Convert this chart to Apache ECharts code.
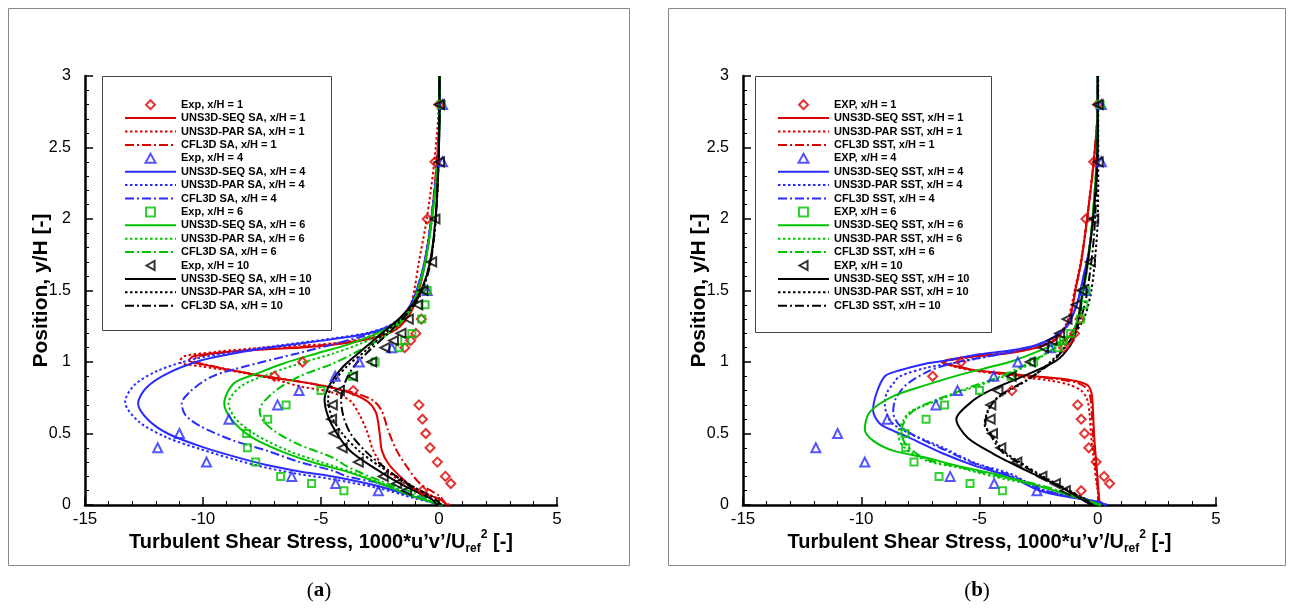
<!DOCTYPE html>
<html><head><meta charset="utf-8">
<script src="https://cdn.jsdelivr.net/npm/echarts/dist/echarts.min.js"></script>
<style>html,body{margin:0;padding:0;background:#fff}#c{width:1291px;height:608px}</style>
</head><body><div id="c"></div>
<script>
// ---------- Experimental data (shared by both panels) [x, y/H] ----------
const exp1 = [[-0.7,0.1],[0.5,0.15],[0.27,0.2],[-0.07,0.3],[-0.38,0.4],[-0.56,0.5],[-0.7,0.6],[-0.85,0.7],[-3.63,0.8],[-6.98,0.9],[-5.78,1.0],[-1.45,1.1],[-1.2,1.15],[-0.98,1.2],[-0.75,1.3],[-0.5,2.0],[-0.17,2.4],[0.0,2.8]];
const exp4 = [[-2.57,0.1],[-4.38,0.15],[-6.24,0.2],[-9.85,0.3],[-11.92,0.4],[-11.0,0.5],[-8.9,0.6],[-6.84,0.7],[-5.93,0.8],[-4.4,0.9],[-3.38,1.0],[-2.0,1.1],[-0.5,1.5],[0.15,2.4],[0.15,2.8]];
const exp6 = [[-4.03,0.1],[-5.4,0.15],[-6.71,0.2],[-7.77,0.3],[-8.12,0.4],[-8.15,0.5],[-7.26,0.6],[-6.48,0.7],[-5.0,0.8],[-3.67,0.9],[-2.71,1.0],[-1.68,1.1],[-1.45,1.15],[-1.15,1.2],[-0.73,1.3],[-0.59,1.4],[-0.5,1.5],[0.1,2.8]];
const exp10 = [[-1.37,0.1],[-1.79,0.15],[-2.36,0.2],[-3.42,0.3],[-4.1,0.4],[-4.45,0.5],[-4.55,0.6],[-4.52,0.7],[-4.22,0.8],[-3.66,0.9],[-2.85,1.0],[-2.29,1.1],[-1.93,1.15],[-1.61,1.2],[-1.3,1.3],[-0.9,1.4],[-0.68,1.5],[-0.31,1.7],[-0.17,2.0],[0.02,2.4],[0.02,2.8]];

// ---------- Panel (a): SA model ----------
const sa1Seq = [[0.35,0],[0.04,0.04],[-0.94,0.1],[-1.65,0.2],[-2.15,0.29],[-2.42,0.38],[-2.5,0.48],[-2.57,0.57],[-2.68,0.65],[-3.0,0.72],[-3.7,0.78],[-4.8,0.83],[-6.0,0.865],[-7.4,0.9],[-8.7,0.94],[-9.9,0.98],[-10.6,1.01],[-10.4,1.04],[-9.0,1.07],[-7.3,1.09],[-5.9,1.1],[-4.5,1.12],[-3.3,1.15],[-2.5,1.18],[-2.0,1.21],[-1.65,1.25],[-1.3,1.32],[-1.05,1.4],[-0.85,1.5],[-0.58,1.7],[-0.32,2.0],[-0.08,2.4],[0.02,2.8],[0.02,3.0]];
const sa1Par = [[0.45,0],[0.1,0.03],[-0.24,0.06],[-1.23,0.13],[-2.22,0.24],[-2.78,0.38],[-3.06,0.52],[-3.4,0.64],[-3.77,0.73],[-4.6,0.79],[-5.9,0.83],[-7.0,0.88],[-8.5,0.93],[-10.1,0.97],[-11.0,1.0],[-10.8,1.04],[-9.5,1.07],[-7.5,1.1],[-5.9,1.115],[-4.5,1.13],[-3.3,1.16],[-2.5,1.19],[-2.0,1.22],[-1.7,1.26],[-1.4,1.33],[-1.2,1.4],[-1.05,1.5],[-0.85,1.7],[-0.52,2.0],[-0.2,2.4],[0.0,2.8],[0.02,3.0]];
const sa1Cfl = [[0.3,0],[0.04,0.06],[-0.81,0.15],[-1.37,0.27],[-1.79,0.38],[-2.15,0.52],[-2.43,0.66],[-2.78,0.73],[-3.5,0.78],[-4.8,0.83],[-6.0,0.865],[-7.4,0.9],[-8.7,0.94],[-9.8,0.98],[-10.4,1.01],[-10.2,1.04],[-8.9,1.07],[-7.3,1.09],[-5.9,1.105],[-4.5,1.125],[-3.3,1.15],[-2.5,1.18],[-2.0,1.21],[-1.65,1.25],[-1.3,1.32],[-1.05,1.4],[-0.85,1.5],[-0.6,1.7],[-0.33,2.0],[-0.1,2.4],[0.02,2.8],[0.02,3.0]];
const sa4Seq = [[0.05,0],[-1.1,0.06],[-2.5,0.13],[-4.5,0.2],[-5.9,0.235],[-7.3,0.28],[-8.7,0.34],[-10.1,0.41],[-11.5,0.5],[-12.35,0.6],[-12.75,0.71],[-12.4,0.82],[-11.5,0.92],[-10.1,1.01],[-8.7,1.06],[-6.8,1.11],[-4.5,1.16],[-3.0,1.2],[-2.1,1.25],[-1.6,1.31],[-1.2,1.4],[-0.95,1.5],[-0.6,1.7],[-0.32,2.0],[-0.06,2.4],[0.02,2.8],[0.02,3.0]];
const sa4Par = [[0.15,0],[-1.1,0.05],[-2.5,0.115],[-4.5,0.18],[-5.9,0.215],[-7.3,0.26],[-8.7,0.32],[-10.1,0.39],[-11.5,0.47],[-12.7,0.58],[-13.3,0.72],[-12.9,0.84],[-11.9,0.94],[-10.4,1.02],[-8.7,1.07],[-6.8,1.115],[-4.5,1.165],[-3.0,1.205],[-2.1,1.255],[-1.6,1.315],[-1.2,1.4],[-0.95,1.5],[-0.62,1.7],[-0.33,2.0],[-0.07,2.4],[0.02,2.8],[0.02,3.0]];
const sa4Cfl = [[0.1,0],[-1.1,0.07],[-2.5,0.15],[-3.9,0.2],[-4.5,0.24],[-5.9,0.3],[-7.3,0.38],[-8.7,0.45],[-10.1,0.55],[-10.75,0.63],[-10.9,0.71],[-10.5,0.8],[-9.6,0.9],[-8.2,0.97],[-6.0,1.06],[-3.9,1.15],[-2.5,1.22],[-1.7,1.29],[-1.25,1.38],[-0.95,1.5],[-0.6,1.7],[-0.32,2.0],[-0.06,2.4],[0.02,2.8],[0.02,3.0]];
const sa6Seq = [[0.1,0],[-1.09,0.06],[-2.5,0.15],[-3.84,0.23],[-5.18,0.29],[-6.6,0.37],[-8.0,0.48],[-8.8,0.6],[-9.1,0.71],[-8.7,0.85],[-7.7,0.92],[-6.6,0.99],[-5.18,1.06],[-3.9,1.12],[-2.78,1.19],[-1.9,1.26],[-1.4,1.33],[-1.1,1.41],[-0.9,1.5],[-0.58,1.7],[-0.3,2.0],[-0.05,2.4],[0.02,2.8],[0.02,3.0]];
const sa6Par = [[0.1,0],[-1.0,0.06],[-2.4,0.15],[-3.7,0.23],[-5.0,0.3],[-6.4,0.38],[-7.75,0.49],[-8.6,0.6],[-8.92,0.71],[-8.4,0.83],[-7.3,0.91],[-5.9,0.99],[-4.48,1.06],[-3.3,1.13],[-2.4,1.2],[-1.7,1.27],[-1.3,1.34],[-1.05,1.42],[-0.88,1.5],[-0.57,1.7],[-0.3,2.0],[-0.05,2.4],[0.02,2.8],[0.02,3.0]];
const sa6Cfl = [[0.15,0],[-1.0,0.08],[-2.5,0.17],[-3.9,0.27],[-4.48,0.33],[-5.9,0.42],[-7.0,0.52],[-7.5,0.6],[-7.6,0.66],[-7.0,0.79],[-5.9,0.9],[-4.48,0.99],[-3.5,1.07],[-2.6,1.15],[-1.9,1.23],[-1.45,1.31],[-1.12,1.4],[-0.9,1.5],[-0.57,1.7],[-0.3,2.0],[-0.05,2.4],[0.02,2.8],[0.02,3.0]];
const sa10Seq = [[-0.1,0],[-0.3,0.04],[-0.8,0.08],[-1.65,0.15],[-2.85,0.27],[-3.77,0.38],[-4.33,0.5],[-4.7,0.62],[-4.85,0.74],[-4.6,0.85],[-4.05,0.97],[-3.28,1.08],[-2.43,1.2],[-1.65,1.31],[-1.1,1.41],[-0.75,1.5],[-0.38,1.7],[-0.15,2.0],[-0.02,2.4],[0.02,2.8],[0.02,3.0]];
const sa10Par = [[0,0],[-0.45,0.06],[-1.3,0.15],[-2.5,0.27],[-3.4,0.38],[-4.1,0.5],[-4.55,0.62],[-4.7,0.74],[-4.45,0.86],[-3.9,0.97],[-3.1,1.08],[-2.3,1.2],[-1.6,1.31],[-1.05,1.41],[-0.72,1.5],[-0.36,1.7],[-0.14,2.0],[-0.02,2.4],[0.02,2.8],[0.02,3.0]];
const sa10Cfl = [[0.1,0],[-0.3,0.06],[-1.37,0.15],[-2.36,0.27],[-3.14,0.38],[-3.75,0.5],[-4.05,0.62],[-4.15,0.74],[-4.0,0.85],[-3.6,0.97],[-2.95,1.08],[-2.15,1.2],[-1.5,1.31],[-1.0,1.41],[-0.7,1.5],[-0.35,1.7],[-0.14,2.0],[-0.02,2.4],[0.02,2.8],[0.02,3.0]];

// ---------- Panel (b): SST model ----------
const sst1Seq = [[0.08,0],[0.01,0.15],[-0.06,0.29],[-0.15,0.48],[-0.2,0.66],[-0.25,0.77],[-0.38,0.83],[-0.76,0.86],[-1.6,0.885],[-3.0,0.905],[-4.14,0.925],[-5.27,0.945],[-6.0,0.97],[-6.5,0.99],[-6.6,1.0],[-6.0,1.025],[-5.27,1.04],[-3.86,1.06],[-2.6,1.1],[-1.85,1.15],[-1.45,1.22],[-1.2,1.3],[-1.05,1.4],[-0.95,1.5],[-0.7,1.7],[-0.45,2.0],[-0.17,2.4],[0,2.8],[0,3.0]];
const sst1Par = [[0.1,0],[-0.05,0.15],[-0.15,0.29],[-0.28,0.48],[-0.35,0.64],[-0.45,0.74],[-0.7,0.8],[-1.2,0.84],[-2.0,0.87],[-3.0,0.89],[-4.14,0.915],[-5.27,0.94],[-6.0,0.965],[-6.45,0.99],[-6.5,1.0],[-6.0,1.02],[-5.0,1.04],[-3.86,1.065],[-2.6,1.105],[-1.9,1.15],[-1.5,1.22],[-1.25,1.3],[-1.1,1.4],[-0.98,1.5],[-0.72,1.7],[-0.46,2.0],[-0.18,2.4],[0,2.8],[0,3.0]];
const sst1Cfl = [[0.05,0],[-0.02,0.15],[-0.1,0.29],[-0.2,0.48],[-0.26,0.66],[-0.32,0.76],[-0.5,0.82],[-0.9,0.855],[-1.7,0.88],[-3.0,0.9],[-4.14,0.92],[-5.27,0.945],[-6.0,0.97],[-6.45,0.99],[-6.55,1.0],[-6.0,1.02],[-5.2,1.04],[-3.86,1.062],[-2.6,1.1],[-1.85,1.15],[-1.45,1.22],[-1.2,1.3],[-1.05,1.4],[-0.95,1.5],[-0.7,1.7],[-0.45,2.0],[-0.17,2.4],[0,2.8],[0,3.0]];
const sst4Seq = [[0.3,0],[0.08,0.02],[-1.04,0.05],[-2.45,0.1],[-3.72,0.2],[-5.13,0.27],[-6.54,0.36],[-7.95,0.47],[-8.66,0.52],[-9.22,0.57],[-9.5,0.66],[-9.36,0.78],[-9.0,0.9],[-8.4,0.94],[-7.24,0.99],[-6.4,1.01],[-5.13,1.05],[-3.72,1.08],[-2.6,1.12],[-1.8,1.18],[-1.3,1.25],[-1.0,1.35],[-0.8,1.45],[-0.6,1.6],[-0.4,1.75],[-0.2,2.0],[-0.03,2.4],[0,2.8],[0,3.0]];
const sst4Par = [[0.4,0],[0.1,0.02],[-1.0,0.055],[-2.4,0.11],[-3.72,0.22],[-5.13,0.29],[-6.54,0.4],[-7.95,0.5],[-8.6,0.56],[-8.86,0.61],[-9.0,0.7],[-8.93,0.78],[-8.6,0.86],[-8.37,0.9],[-7.24,0.96],[-5.84,1.0],[-4.6,1.04],[-3.4,1.08],[-2.5,1.12],[-1.8,1.18],[-1.3,1.25],[-1.0,1.35],[-0.8,1.45],[-0.6,1.6],[-0.4,1.75],[-0.2,2.0],[-0.03,2.4],[0,2.8],[0,3.0]];
const sst4Cfl = [[0.35,0],[0.05,0.02],[-1.0,0.055],[-2.4,0.11],[-3.72,0.21],[-5.13,0.285],[-6.54,0.39],[-7.7,0.48],[-8.4,0.56],[-8.65,0.65],[-8.55,0.74],[-8.1,0.84],[-7.1,0.94],[-5.9,1.0],[-4.6,1.04],[-3.4,1.08],[-2.5,1.12],[-1.8,1.18],[-1.3,1.25],[-1.0,1.35],[-0.8,1.45],[-0.6,1.6],[-0.4,1.75],[-0.2,2.0],[-0.03,2.4],[0,2.8],[0,3.0]];
const sst6Seq = [[0.1,0],[-1.04,0.06],[-2.45,0.13],[-4.43,0.22],[-5.84,0.27],[-7.24,0.33],[-8.66,0.38],[-9.5,0.45],[-9.85,0.53],[-9.64,0.65],[-8.66,0.76],[-7.24,0.84],[-5.84,0.91],[-4.43,0.97],[-3.72,1.0],[-2.45,1.08],[-1.5,1.15],[-1.04,1.2],[-0.8,1.3],[-0.65,1.45],[-0.45,1.65],[-0.25,1.95],[-0.05,2.4],[0,2.8],[0,3.0]];
const sst6Par = [[0.15,0],[-1.0,0.06],[-2.45,0.13],[-4.43,0.2],[-5.84,0.26],[-7.24,0.31],[-8.23,0.41],[-8.44,0.5],[-8.23,0.59],[-7.95,0.65],[-7.24,0.7],[-5.84,0.79],[-4.43,0.87],[-3.4,0.94],[-2.45,1.03],[-1.6,1.12],[-1.1,1.2],[-0.85,1.3],[-0.68,1.45],[-0.46,1.65],[-0.25,1.95],[-0.05,2.4],[0,2.8],[0,3.0]];
const sst6Cfl = [[0.1,0],[-1.0,0.065],[-2.45,0.14],[-4.43,0.21],[-5.84,0.265],[-7.24,0.32],[-8.1,0.42],[-8.3,0.51],[-8.09,0.61],[-7.6,0.68],[-6.6,0.75],[-5.3,0.83],[-4.1,0.9],[-3.2,0.97],[-2.3,1.05],[-1.55,1.13],[-1.1,1.2],[-0.85,1.3],[-0.68,1.45],[-0.46,1.65],[-0.25,1.95],[-0.05,2.4],[0,2.8],[0,3.0]];
const sst10Seq = [[-0.3,0],[-0.48,0.02],[-0.9,0.06],[-1.61,0.13],[-3.01,0.24],[-4.43,0.36],[-5.5,0.47],[-5.98,0.6],[-5.27,0.73],[-4.57,0.8],[-3.16,0.9],[-1.75,1.01],[-1.18,1.11],[-0.95,1.2],[-0.8,1.32],[-0.67,1.46],[-0.45,1.67],[-0.2,2.0],[-0.03,2.4],[0,2.8],[0,3.0]];
const sst10Par = [[-0.2,0],[-0.5,0.04],[-1.18,0.1],[-2.31,0.2],[-3.3,0.3],[-4.0,0.38],[-4.43,0.48],[-4.78,0.56],[-4.65,0.66],[-4.3,0.74],[-3.72,0.8],[-2.74,0.9],[-1.75,1.04],[-1.04,1.18],[-0.55,1.32],[-0.27,1.5],[-0.1,1.75],[0,2.0],[0.02,2.4],[0.02,2.8],[0.02,3.0]];
const sst10Cfl = [[-0.25,0],[-0.55,0.04],[-1.25,0.1],[-2.4,0.2],[-3.4,0.3],[-4.1,0.38],[-4.5,0.48],[-4.75,0.57],[-4.6,0.67],[-4.25,0.75],[-3.8,0.8],[-2.95,0.88],[-2.0,0.99],[-1.3,1.12],[-0.85,1.25],[-0.55,1.4],[-0.35,1.6],[-0.15,1.9],[-0.02,2.4],[0,2.8],[0,3.0]];

// ---------- axis ticks ----------
const xTicks = {min: -15, max: 5, interval: 5};
const yTicks = {min: 0, max: 3, interval: 0.5};

const RED = '#dd0000', BLUE = '#2b2bff', GREEN = '#00c400', BLACK = '#000000';
const SANS = '"Liberation Sans", Arial, Helvetica, sans-serif';
const SERIF = '"Liberation Serif", "DejaVu Serif", serif';
const DASH = {seq: 'solid', par: [2.5, 2.5], cfl: [9, 3, 2, 3]};
const ICON = {
  diamond: 'path://M5,0 L10,5 L5,10 L0,5 Z',
  triangle: 'path://M5,0 L10,9 L0,9 Z',
  triLeft: 'path://M0,5 L9,0 L9,10 Z',
  rect: 'path://M0,0 L10,0 L10,10 L0,10 Z'
};

function lineS(name, data, color, kind, gi) {
  return {name, type: 'line', xAxisIndex: gi, yAxisIndex: gi, data, symbol: 'none', smooth: 0.3,
    lineStyle: {color, width: 2, type: DASH[kind]}, itemStyle: {color}, z: 2, silent: true};
}
function expS(name, data, color, symbol, rot, size, icon, gi) {
  return {name, type: 'scatter', xAxisIndex: gi, yAxisIndex: gi, data, symbol, symbolRotate: rot, symbolSize: size,
    symbolKeepAspect: true, legendIconName: icon,
    itemStyle: {color: 'rgba(255,255,255,0)', borderColor: color, borderWidth: 2}, z: 3, silent: true};
}

function panel(gi, expLabel, model, sets) {
  const out = [];
  const groups = [
    ['1', RED, exp1, 'diamond', 0, 9, 'diamond'],
    ['4', BLUE, exp4, 'triangle', 0, 9, 'triangle'],
    ['6', GREEN, exp6, 'rect', 0, 7, 'rect'],
    ['10', BLACK, exp10, 'triangle', 90, 9, 'triLeft']
  ];
  groups.forEach((g, i) => {
    const [st, color, ed, sym, rot, sz, icon] = g;
    out.push(expS(expLabel + ', x/H = ' + st, ed, color, sym, rot, sz, icon, gi));
    out.push(lineS('UNS3D-SEQ ' + model + ', x/H = ' + st, sets[i][0], color, 'seq', gi));
    out.push(lineS('UNS3D-PAR ' + model + ', x/H = ' + st, sets[i][1], color, 'par', gi));
    out.push(lineS('CFL3D ' + model + ', x/H = ' + st, sets[i][2], color, 'cfl', gi));
  });
  return out;
}

const seriesA = panel(0, 'Exp', 'SA', [[sa1Seq, sa1Par, sa1Cfl], [sa4Seq, sa4Par, sa4Cfl], [sa6Seq, sa6Par, sa6Cfl], [sa10Seq, sa10Par, sa10Cfl]]);
const seriesB = panel(1, 'EXP', 'SST', [[sst1Seq, sst1Par, sst1Cfl], [sst4Seq, sst4Par, sst4Cfl], [sst6Seq, sst6Par, sst6Cfl], [sst10Seq, sst10Par, sst10Cfl]]);

function xAx(gi) {
  return {gridIndex: gi, type: 'value', min: xTicks.min, max: xTicks.max, interval: xTicks.interval,
    axisLine: {show: true, onZero: false, lineStyle: {color: '#000', width: 2.5}},
    axisTick: {show: true, inside: true, length: 8, lineStyle: {color: '#000', width: 1.5}},
    minorTick: {show: true, splitNumber: 5, length: 4, lineStyle: {color: '#000', width: 1}},
    splitLine: {show: false}, minorSplitLine: {show: false},
    axisLabel: {fontSize: 17, color: '#000', margin: 6, fontFamily: SANS},
    name: 'Turbulent Shear Stress, 1000*u’v’/U{sub|ref}{sup|2} [-]', nameLocation: 'middle', nameGap: 24,
    nameMoveOverlap: false,
    nameTextStyle: {fontSize: 20, fontWeight: 'bold', color: '#000', fontFamily: SANS, lineHeight: 26,
      rich: {sub: {fontSize: 12, fontWeight: 'bold', fontFamily: SANS, color: '#000', verticalAlign: 'bottom', lineHeight: 12},
             sup: {fontSize: 12, fontWeight: 'bold', fontFamily: SANS, color: '#000', verticalAlign: 'top', lineHeight: 12}}}
  };
}
function yAx(gi) {
  return {gridIndex: gi, type: 'value', min: yTicks.min, max: yTicks.max, interval: yTicks.interval,
    axisLine: {show: true, onZero: false, lineStyle: {color: '#000', width: 2.5}},
    axisTick: {show: true, inside: true, length: 8, lineStyle: {color: '#000', width: 1.5}},
    minorTick: {show: true, splitNumber: 5, length: 4, lineStyle: {color: '#000', width: 1}},
    splitLine: {show: false}, minorSplitLine: {show: false},
    axisLabel: {fontSize: 16, color: '#000', margin: 14, fontFamily: SANS},
    name: 'Position, y/H [-]', nameLocation: 'middle', nameGap: 33, nameMoveOverlap: false,
    nameTextStyle: {fontSize: 21, fontWeight: 'bold', color: '#000', fontFamily: SANS}
  };
}
function legendOf(series, left) {
  const data = series.map(s => s.type === 'line'
    ? {name: s.name, itemStyle: {color: 'rgba(0,0,0,0)', borderColor: 'rgba(0,0,0,0)', borderWidth: 0}}
    : {name: s.name, icon: ICON[s.legendIconName], symbolRotate: 0});
  return {data, orient: 'vertical', left, top: 98, padding: 0, symbolKeepAspect: true, symbolRotate: 0,
    itemWidth: 51, itemHeight: 9, itemGap: 0, selectedMode: false,
    textStyle: {fontSize: 11, fontWeight: 'bold', color: '#000', fontFamily: SANS, lineHeight: 13.4}};
}

const chart = echarts.init(document.getElementById('c'), null, {renderer: 'canvas'});
chart.setOption({
  animation: false,
  backgroundColor: '#fff',
  grid: [
    {left: 85, top: 76, width: 472, height: 429, outerBoundsMode: 'none', containLabel: false},
    {left: 743, top: 76, width: 473, height: 429, outerBoundsMode: 'none', containLabel: false}
  ],
  xAxis: [xAx(0), xAx(1)],
  yAxis: [yAx(0), yAx(1)],
  legend: [legendOf(seriesA, 124), legendOf(seriesB, 777)],
  series: seriesA.concat(seriesB),
  graphic: [
    {type: 'rect', silent: true, shape: {x: 8.5, y: 8.5, width: 621, height: 557}, style: {fill: 'none', stroke: '#888', lineWidth: 1}},
    {type: 'rect', silent: true, shape: {x: 668.5, y: 8.5, width: 617, height: 557}, style: {fill: 'none', stroke: '#888', lineWidth: 1}},
    {type: 'rect', silent: true, z: -1, shape: {x: 102.5, y: 76.5, width: 229, height: 254}, style: {fill: '#fff', stroke: '#444', lineWidth: 1}},
    {type: 'rect', silent: true, z: -1, shape: {x: 755.5, y: 76.5, width: 236, height: 256}, style: {fill: '#fff', stroke: '#444', lineWidth: 1}},
    {type: 'text', silent: true, x: 319, y: 591, style: {text: '({b|a})', textAlign: 'center', textVerticalAlign: 'middle', fontSize: 21, fontFamily: SERIF, fill: '#000', rich: {b: {fontWeight: 'bold', fontSize: 21, fontFamily: SERIF}}}},
    {type: 'text', silent: true, x: 977, y: 591, style: {text: '({b|b})', textAlign: 'center', textVerticalAlign: 'middle', fontSize: 21, fontFamily: SERIF, fill: '#000', rich: {b: {fontWeight: 'bold', fontSize: 21, fontFamily: SERIF}}}}
  ]
});
</script></body></html>
